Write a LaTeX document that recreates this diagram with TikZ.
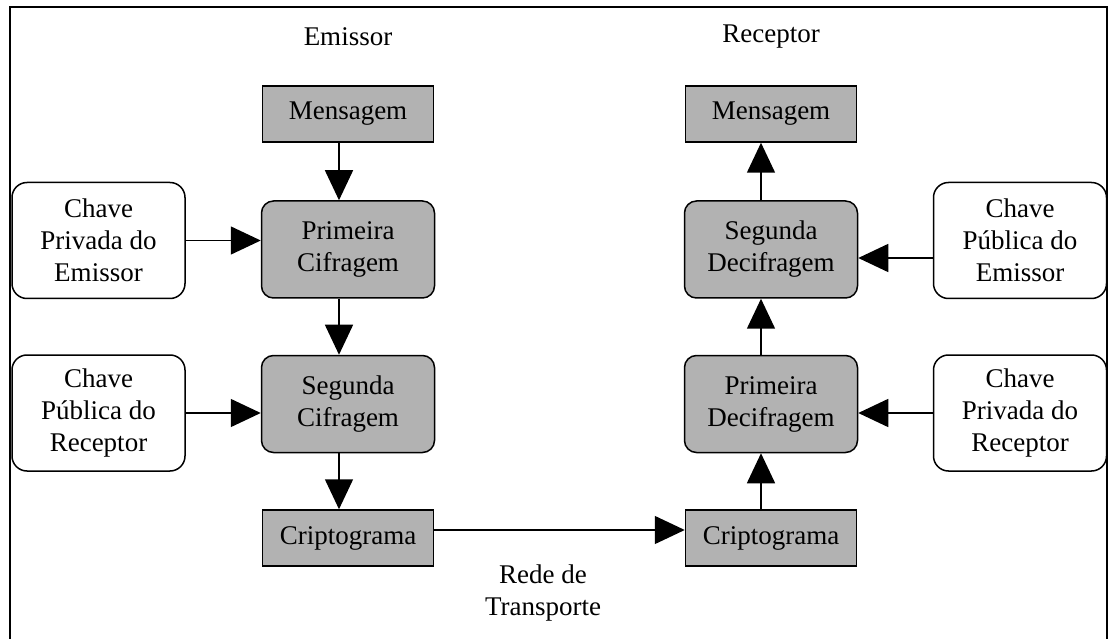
\documentclass[tikz,border=0pt]{standalone}
\usepackage{fontspec}
\setmainfont{Liberation Serif}
\usetikzlibrary{arrows.meta,positioning}
\definecolor{boxgray}{RGB}{178,178,178}
\tikzset{
  msgbox/.style={rectangle,draw,fill=boxgray,minimum width=171pt,minimum height=56pt},
  cifbox/.style={rectangle,draw,fill=boxgray,rounded corners=12pt,minimum width=173pt,minimum height=97pt},
  keybox/.style={rectangle,draw,fill=white,rounded corners=15pt,minimum width=173pt,minimum height=116pt}
}
\begin{document}
\begin{tikzpicture}[x=1pt,y=1pt,line width=1.5pt,
    every node/.style={align=center,font=\fontsize{27}{32}\selectfont}]
      \useasboundingbox (0,0) rectangle (1112,-639);
      \draw (10,-650) -- (10,-7) -- (1107,-7) -- (1107,-650);
      \begin{scope}
        % emissor
        \node[msgbox] (msgE) at (348,-114) {Mensagem};
        \node[cifbox] (cif1) [below of= msgE, node distance=135.5pt] {Primeira\\Cifragem};
        \node[cifbox] (cif2) [below of= cif1, node distance=154.5pt] {Segunda\\Cifragem};
        \node[msgbox] (criptE) [below of= cif2, node distance=134pt] {Criptograma};
        \node[keybox] (keyPrivE) [left of= cif1, node distance=249.5pt, yshift=9pt] {Chave\\Privada do\\Emissor};
        \node[keybox] (keyPubR) [left of= cif2, node distance=249.5pt, yshift=-9pt] {Chave\\Pública do\\Receptor};
        \node (emissor) [above of= msgE, node distance=77pt] {Emissor};
        % receptor
        \node[msgbox] (msgR) [right of= msgE, node distance=423pt] {Mensagem};
        \node[cifbox] (dec2) [right of= cif1, node distance=423pt] {Segunda\\Decifragem};
        \node[cifbox] (dec1) [right of= cif2, node distance=423pt] {Primeira\\Decifragem};
        \node[msgbox] (criptR) [right of= criptE, node distance=423pt] {Criptograma};
        \node[keybox] (keyPubE) [right of= dec2, node distance=249pt, yshift=9pt] {Chave\\Pública do\\Emissor};
        \node[keybox] (keyPrivR) [right of= dec1, node distance=249pt, yshift=-9pt] {Chave\\Privada do\\Receptor};
        \node (receptor) [above of= msgR, node distance=77pt] {Receptor};
        \node (rede) at (543,-593) {Rede de\\Transporte};
      \end{scope}
      \begin{scope}
        [every edge/.style={draw,-{Triangle[length=30pt,width=28pt]}}]
        \path ([xshift=-9pt]msgE.south) edge ([xshift=-9pt]cif1.north);
        \path ([xshift=-9pt]cif1.south) edge ([xshift=-9pt]cif2.north);
        \path ([xshift=-9pt]cif2.south) edge ([xshift=-9pt]criptE.north);
        \path (keyPrivE.east) edge (keyPrivE.east -| cif1.west);
        \path (keyPubR.east) edge (keyPubR.east -| cif2.west);
        \path ([yshift=8pt]criptE.east) edge ([yshift=8pt]criptR.west);
        \path ([xshift=-10pt]criptR.north) edge ([xshift=-10pt]dec1.south);
        \path ([xshift=-10pt]dec1.north) edge ([xshift=-10pt]dec2.south);
        \path ([xshift=-10pt]dec2.north) edge ([xshift=-10pt]msgR.south);
        \path (keyPrivR.west) edge (keyPrivR.west -| dec1.east);
        \path ([yshift=-8.5pt]dec2.east -| keyPubE.west) edge ([yshift=-8.5pt]dec2.east);
      \end{scope}
    \end{tikzpicture}
\end{document}
